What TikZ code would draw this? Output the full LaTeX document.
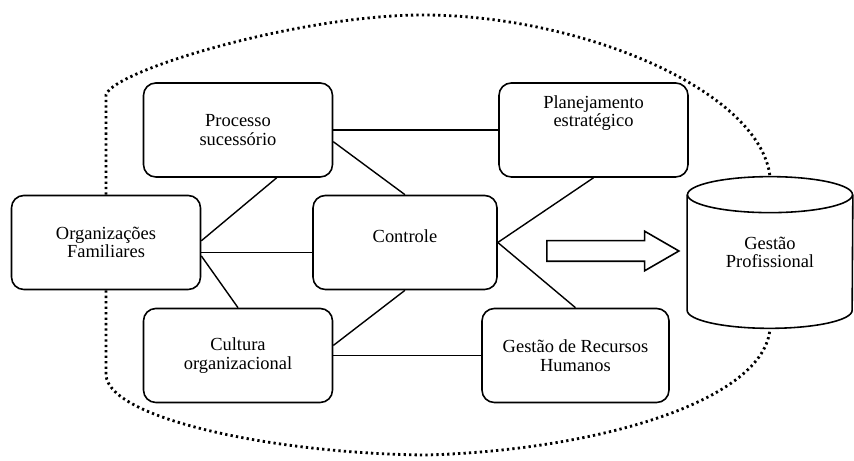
\documentclass[tikz,border=0pt]{standalone}
\usepackage{fontspec}
\setmainfont{Liberation Serif}
\usetikzlibrary{shapes.arrows,calc}

\begin{document}
\begin{tikzpicture}[every node/.style={font=\fontsize{10.5}{10.5}\selectfont, align=center},
  caixa/.style={draw, line width=0.9pt, rounded corners=7pt, minimum width=3.78cm, minimum height=1.88cm},
  liga/.style={line width=0.8pt},
  contorno/.style={line width=1.6pt, dash pattern=on 1.3pt off 1.8pt},
  seta/.style={draw, line width=0.9pt, single arrow, single arrow tip angle=60,
    single arrow head extend=0.19cm, minimum height=2.64cm, text height=0.38cm, text depth=0pt, inner sep=0pt}]
  \useasboundingbox (0,0) rectangle (17.08,9.22);
  % caixas
  \node[caixa] (org) at (2.12,4.37) {Organizações\\Familiares};
  \node[caixa] (proc) at (4.76,6.62) {Processo\\sucessório};
  \node[caixa, text depth=0.76cm] (plan) at (11.87,6.62) {Planejamento\\estratégico};
  \node[caixa, minimum width=3.68cm, text depth=0.26cm] (ctrl) at (8.10,4.37) {Controle};
  \node[caixa] (cult) at (4.76,2.11) {Cultura\\organizacional};
  \node[caixa, minimum width=3.74cm] (grh) at (11.51,2.11) {Gestão de Recursos\\Humanos};
  \node[minimum width=3.3cm, minimum height=3.02cm] (gp) at (15.40,4.17) {Gestão\\Profissional};
  \node[seta] (avanco) at (12.08,4.2) {};
  % cilindro
  \draw[line width=0.9pt] ($(gp.north)+(0,-0.36)$) ellipse [x radius=1.65cm, y radius=0.36cm];
  \draw[line width=0.9pt] ($(gp.north west)+(0,-0.36)$) -- ($(gp.south west)+(0,0.36)$)
    arc [start angle=180, end angle=360, x radius=1.65cm, y radius=0.36cm] -- ($(gp.north east)+(0,-0.36)$);
  % ligacoes
  \draw[liga] (proc) -- (plan);
  \draw[liga] (proc.-7) -- (ctrl.north);
  \draw[liga] (proc.-51) -- (org.1);
  \draw[liga] (org.-6) -- (org.-6 -| ctrl.west);
  \draw[liga] (org.-8) -- (cult.north);
  \draw[liga] (ctrl.south) -- (cult.6);
  \draw[liga] (cult) -- (grh);
  \draw[liga] (ctrl.east) -- (plan.south);
  \draw[liga] (ctrl.east) -- (grh.north);
  % contorno pontilhado
  \draw[contorno] (org.north) -- ++(0,2.0) .. controls (2.28,7.82) and (6,8.92) .. (8.46,8.92)
    .. controls (11.6,8.92) and (15.2,7.42) .. (gp.north);
  \draw[contorno] (org.south) -- ++(0,-1.7) .. controls (2.2,0.82) and (5.6,0.14) .. (8.54,0.12)
    .. controls (12,0.22) and (15.3,1.22) .. (gp.south);
\end{tikzpicture}
\end{document}
